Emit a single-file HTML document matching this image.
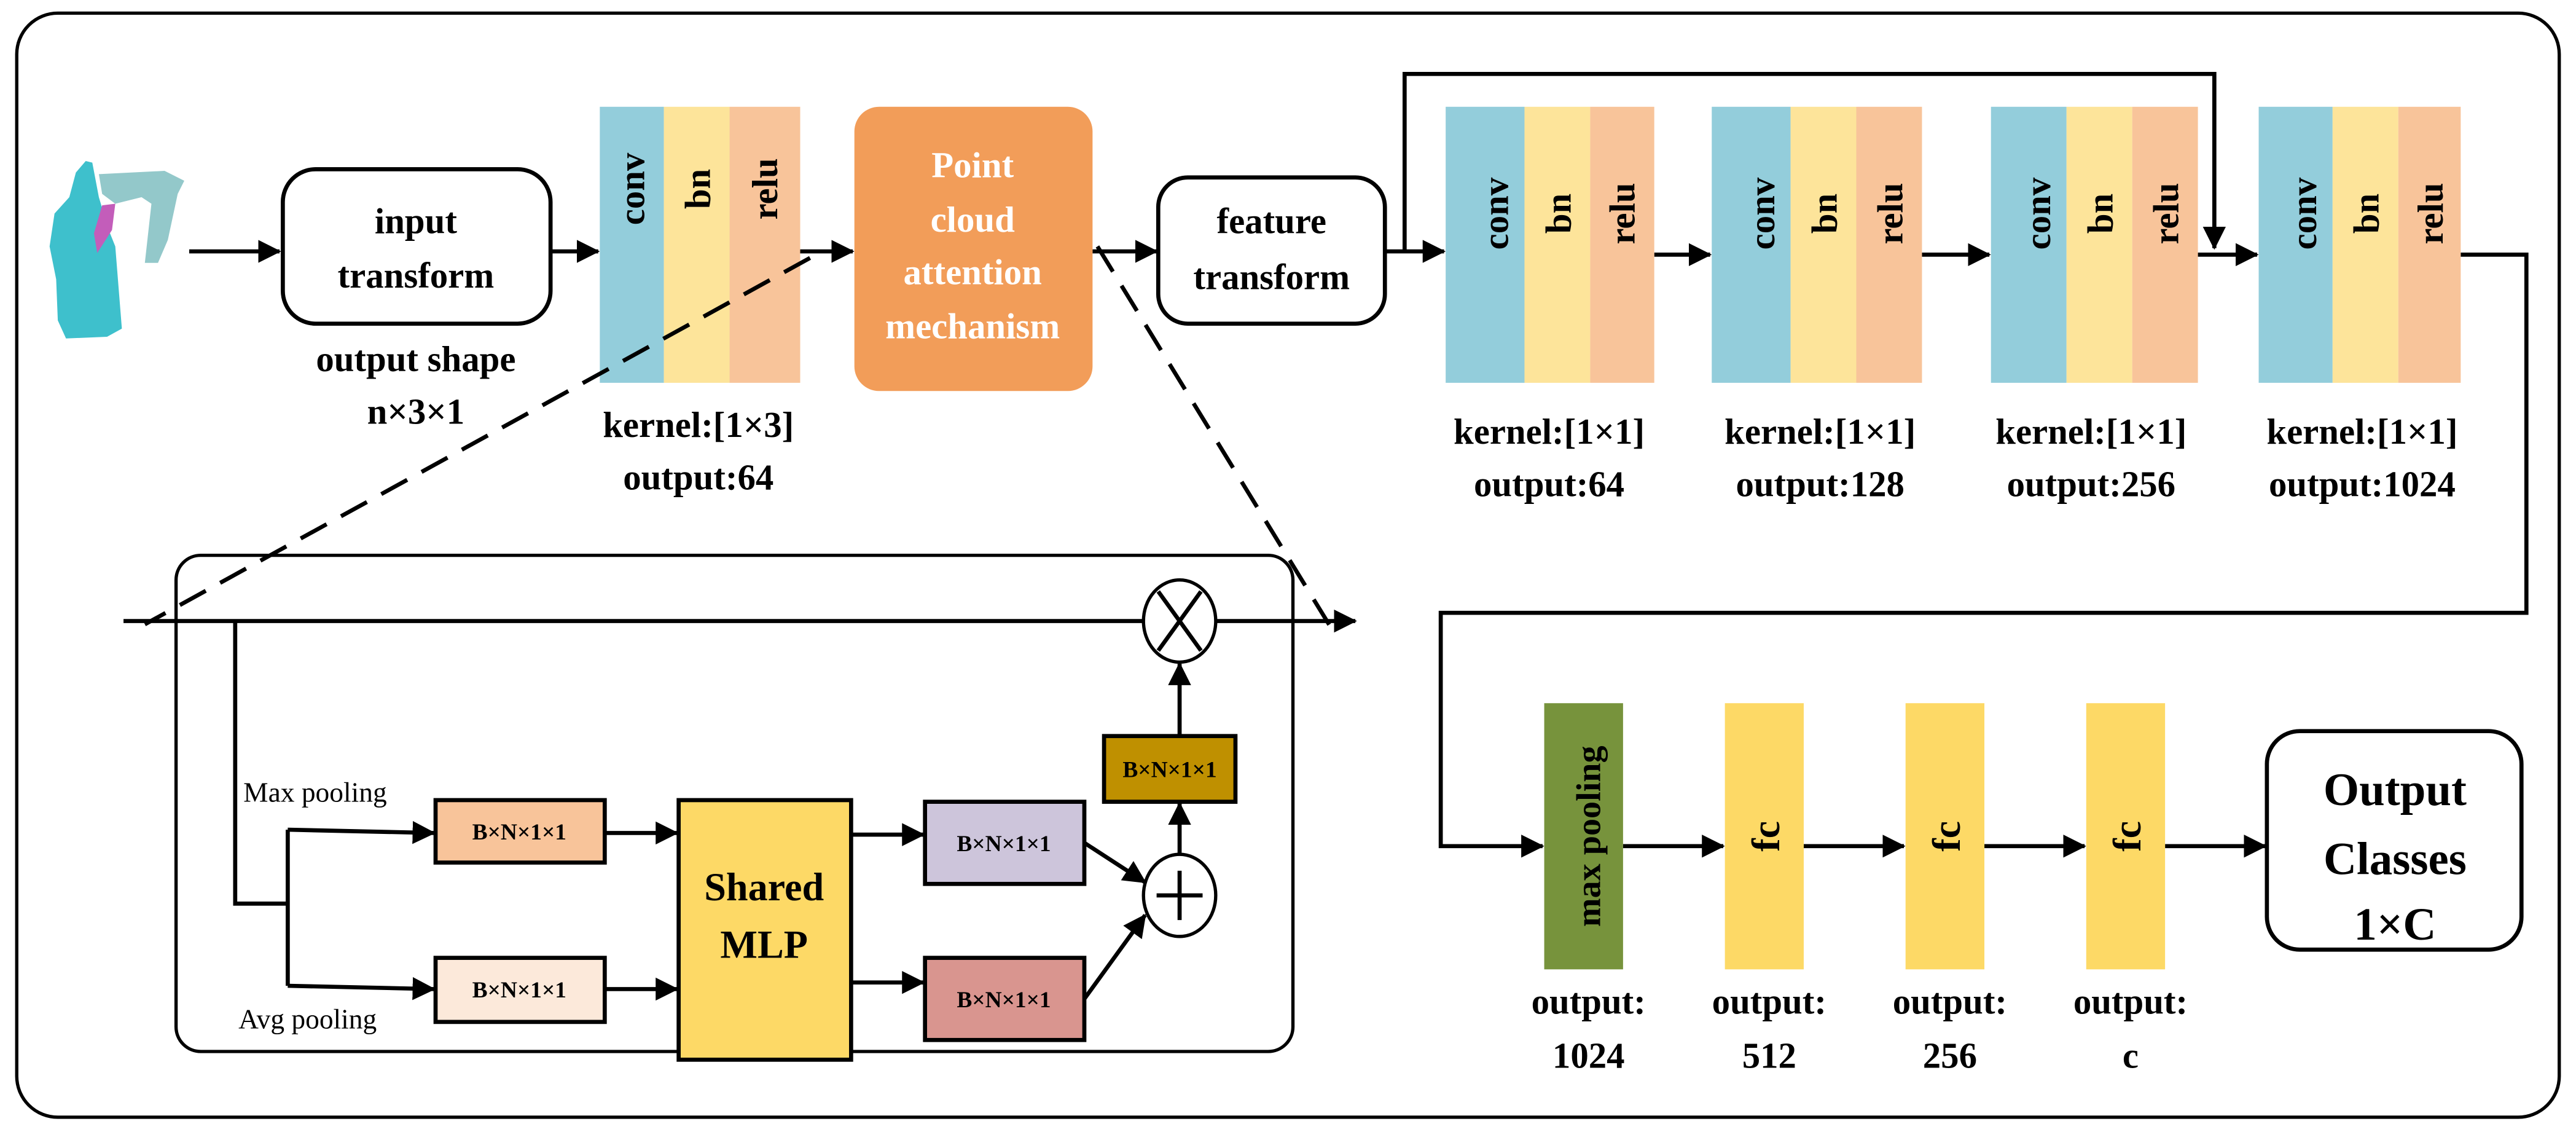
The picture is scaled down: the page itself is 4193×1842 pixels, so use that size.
<!DOCTYPE html>
<html><head><meta charset="utf-8"><style>
html,body{margin:0;padding:0;background:#fff}
svg{display:block}
text{font-family:"Liberation Serif","DejaVu Serif",serif;font-weight:bold;fill:#000}
</style></head><body>
<svg width="4193" height="1842" viewBox="0 0 1568 689" xmlns="http://www.w3.org/2000/svg">
<defs>
<marker id="b" markerWidth="14" markerHeight="14" refX="13" refY="7" orient="auto" markerUnits="userSpaceOnUse"><path d="M0,0 L14,7 L0,14 z" fill="#000"/></marker>
</defs>
<rect x="10" y="8" width="1548" height="672" rx="25" fill="none" stroke="#000" stroke-width="2"/>

<!-- object -->
<g>
<path d="M60,106 L100,104 L112,110 L108,118 L102,146 L96,160 L88,160 L92,124 L86,120 L70,124 L62,118 z" fill="#93C8CA"/>
<path d="M52,98 L56,99 L60,120 L66,140 L70,150 L72,175 L74,200 L65,205 L40,206 L35,195 L34,170 L30,150 L33,130 L42,120 L46,105 z" fill="#3EC0CC"/>
<path d="M62,125 L70,124 L68,140 L59,154 L57,142 z" fill="#C35DBA"/>
</g>

<g stroke="#000" stroke-width="2.5" fill="none">
<line x1="115" y1="153" x2="170" y2="153" marker-end="url(#b)"/>
<line x1="335" y1="153" x2="364" y2="153" marker-end="url(#b)"/>
<line x1="487" y1="153" x2="519" y2="153" marker-end="url(#b)"/>
<line x1="665" y1="153" x2="704" y2="153" marker-end="url(#b)"/>
<line x1="843" y1="153" x2="879" y2="153" marker-end="url(#b)"/>
<polyline points="855,153 855,45 1348,45 1348,151" marker-end="url(#b)"/>
<line x1="1007" y1="155" x2="1041" y2="155" marker-end="url(#b)"/>
<line x1="1170" y1="155" x2="1211" y2="155" marker-end="url(#b)"/>
<line x1="1338" y1="155" x2="1374" y2="155" marker-end="url(#b)"/>
<polyline points="1498,155 1538,155 1538,373 877,373 877,515 939,515" marker-end="url(#b)"/>
<line x1="988" y1="515" x2="1049" y2="515" marker-end="url(#b)"/>
<line x1="1098" y1="515" x2="1159" y2="515" marker-end="url(#b)"/>
<line x1="1208" y1="515" x2="1269" y2="515" marker-end="url(#b)"/>
<line x1="1318" y1="515" x2="1379" y2="515" marker-end="url(#b)"/>
</g>

<rect x="172" y="103" width="163" height="94" rx="20" fill="#fff" stroke="#000" stroke-width="2.5"/>
<text x="253" y="142" font-size="22" text-anchor="middle">input</text>
<text x="253" y="175" font-size="22" text-anchor="middle">transform</text>
<text x="253" y="226" font-size="22" text-anchor="middle">output shape</text>
<text x="253" y="258" font-size="22" text-anchor="middle">n×3×1</text>

<rect x="365" y="65" width="39" height="168" fill="#93CDDB"/>
<rect x="404" y="65" width="40" height="168" fill="#FDE49A"/>
<rect x="444" y="65" width="43" height="168" fill="#F8C49A"/>
<text transform="translate(392,115) rotate(-90)" font-size="22" text-anchor="middle">conv</text>
<text transform="translate(432,115) rotate(-90)" font-size="22" text-anchor="middle">bn</text>
<text transform="translate(473,115) rotate(-90)" font-size="22" text-anchor="middle">relu</text>
<text x="425" y="266" font-size="22" text-anchor="middle">kernel:[1×3]</text>
<text x="425" y="298" font-size="22" text-anchor="middle">output:64</text>

<rect x="520" y="65" width="145" height="173" rx="15" fill="#F29D59"/>
<text x="592" y="108" font-size="22" text-anchor="middle" style="fill:#fff">Point</text>
<text x="592" y="141" font-size="22" text-anchor="middle" style="fill:#fff">cloud</text>
<text x="592" y="173" font-size="22" text-anchor="middle" style="fill:#fff">attention</text>
<text x="592" y="206" font-size="22" text-anchor="middle" style="fill:#fff">mechanism</text>

<rect x="705" y="108" width="138" height="89" rx="18" fill="#fff" stroke="#000" stroke-width="2.5"/>
<text x="774" y="142" font-size="22" text-anchor="middle">feature</text>
<text x="774" y="176" font-size="22" text-anchor="middle">transform</text>

<rect x="880" y="65" width="48" height="168" fill="#93CDDB"/><rect x="928" y="65" width="40" height="168" fill="#FDE49A"/><rect x="968" y="65" width="39" height="168" fill="#F8C49A"/>
<text transform="translate(918,130) rotate(-90)" font-size="22" text-anchor="middle">conv</text>
<text transform="translate(956,130) rotate(-90)" font-size="22" text-anchor="middle">bn</text>
<text transform="translate(995,130) rotate(-90)" font-size="22" text-anchor="middle">relu</text>
<rect x="1042" y="65" width="48" height="168" fill="#93CDDB"/><rect x="1090" y="65" width="40" height="168" fill="#FDE49A"/><rect x="1130" y="65" width="40" height="168" fill="#F8C49A"/>
<text transform="translate(1080,130) rotate(-90)" font-size="22" text-anchor="middle">conv</text>
<text transform="translate(1118,130) rotate(-90)" font-size="22" text-anchor="middle">bn</text>
<text transform="translate(1158,130) rotate(-90)" font-size="22" text-anchor="middle">relu</text>
<rect x="1212" y="65" width="46" height="168" fill="#93CDDB"/><rect x="1258" y="65" width="40" height="168" fill="#FDE49A"/><rect x="1298" y="65" width="40" height="168" fill="#F8C49A"/>
<text transform="translate(1248,130) rotate(-90)" font-size="22" text-anchor="middle">conv</text>
<text transform="translate(1286,130) rotate(-90)" font-size="22" text-anchor="middle">bn</text>
<text transform="translate(1326,130) rotate(-90)" font-size="22" text-anchor="middle">relu</text>
<rect x="1375" y="65" width="45" height="168" fill="#93CDDB"/><rect x="1420" y="65" width="40" height="168" fill="#FDE49A"/><rect x="1460" y="65" width="38" height="168" fill="#F8C49A"/>
<text transform="translate(1410,130) rotate(-90)" font-size="22" text-anchor="middle">conv</text>
<text transform="translate(1448,130) rotate(-90)" font-size="22" text-anchor="middle">bn</text>
<text transform="translate(1487,130) rotate(-90)" font-size="22" text-anchor="middle">relu</text>
<g font-size="22" text-anchor="middle">
<text x="943" y="270">kernel:[1×1]</text><text x="943" y="302">output:64</text>
<text x="1108" y="270">kernel:[1×1]</text><text x="1108" y="302">output:128</text>
<text x="1273" y="270">kernel:[1×1]</text><text x="1273" y="302">output:256</text>
<text x="1438" y="270">kernel:[1×1]</text><text x="1438" y="302">output:1024</text>
</g>

<rect x="940" y="428" width="48" height="162" fill="#77933C"/>
<text transform="translate(974,509) rotate(-90)" font-size="21" text-anchor="middle">max pooling</text>
<rect x="1050" y="428" width="48" height="162" fill="#FDD966"/>
<rect x="1160" y="428" width="48" height="162" fill="#FDD966"/>
<rect x="1270" y="428" width="48" height="162" fill="#FDD966"/>
<text transform="translate(1083,509) rotate(-90)" font-size="24" text-anchor="middle">fc</text>
<text transform="translate(1193,509) rotate(-90)" font-size="24" text-anchor="middle">fc</text>
<text transform="translate(1303,509) rotate(-90)" font-size="24" text-anchor="middle">fc</text>
<g font-size="22" text-anchor="middle">
<text x="967" y="617">output:</text><text x="967" y="650">1024</text>
<text x="1077" y="617">output:</text><text x="1077" y="650">512</text>
<text x="1187" y="617">output:</text><text x="1187" y="650">256</text>
<text x="1297" y="617">output:</text><text x="1297" y="650">c</text>
</g>
<rect x="1380" y="445" width="155" height="133" rx="20" fill="#fff" stroke="#000" stroke-width="2.5"/>
<g font-size="28" text-anchor="middle">
<text x="1458" y="490">Output</text><text x="1458" y="532">Classes</text><text x="1458" y="572">1×C</text>
</g>

<rect x="107" y="338" width="680" height="302" rx="15" fill="none" stroke="#000" stroke-width="2"/>
<g stroke="#000" stroke-width="2.5" fill="none" stroke-dasharray="18,10">
<line x1="493" y1="157" x2="88" y2="380"/>
<line x1="668" y1="150" x2="812" y2="385"/>
</g>
<g stroke="#000" stroke-width="2.5" fill="none">
<line x1="75" y1="378" x2="696" y2="378"/>
<line x1="740" y1="378" x2="825" y2="378" marker-end="url(#b)"/>
<polyline points="143,378 143,550 175,550"/>
<polyline points="175,505 175,600"/>
<line x1="175" y1="505" x2="264" y2="507" marker-end="url(#b)"/>
<line x1="175" y1="600" x2="264" y2="602" marker-end="url(#b)"/>
<line x1="368" y1="507" x2="412" y2="507" marker-end="url(#b)"/>
<line x1="368" y1="602" x2="412" y2="602" marker-end="url(#b)"/>
<line x1="518" y1="508" x2="562" y2="508" marker-end="url(#b)"/>
<line x1="518" y1="598" x2="562" y2="598" marker-end="url(#b)"/>
<line x1="660" y1="513" x2="697" y2="537" marker-end="url(#b)"/>
<line x1="660" y1="608" x2="697" y2="557" marker-end="url(#b)"/>
<line x1="718" y1="520" x2="718" y2="489" marker-end="url(#b)"/>
<line x1="718" y1="448" x2="718" y2="404" marker-end="url(#b)"/>
</g>
<ellipse cx="718" cy="378" rx="22" ry="25" fill="#fff" stroke="#000" stroke-width="2"/>
<line x1="705" y1="360" x2="731" y2="396" stroke="#000" stroke-width="2.5"/>
<line x1="731" y1="360" x2="705" y2="396" stroke="#000" stroke-width="2.5"/>
<ellipse cx="718" cy="545" rx="22" ry="25" fill="#fff" stroke="#000" stroke-width="2"/>
<line x1="704" y1="545" x2="732" y2="545" stroke="#000" stroke-width="2.5"/>
<line x1="718" y1="530" x2="718" y2="560" stroke="#000" stroke-width="2.5"/>

<g stroke="#000" stroke-width="2.5">
<rect x="265" y="487" width="103" height="38" fill="#F8C49A"/>
<rect x="265" y="583" width="103" height="39" fill="#FCE9DA"/>
<rect x="413" y="487" width="105" height="158" fill="#FDD966"/>
<rect x="563" y="488" width="97" height="50" fill="#CDC5DB"/>
<rect x="563" y="583" width="97" height="50" fill="#D9958F"/>
<rect x="672" y="448" width="80" height="40" fill="#BF9000"/>
</g>
<g font-size="14" text-anchor="middle">
<text x="316" y="511">B×N×1×1</text>
<text x="316" y="607">B×N×1×1</text>
<text x="611" y="518">B×N×1×1</text>
<text x="611" y="613">B×N×1×1</text>
<text x="712" y="473">B×N×1×1</text>
</g>
<text x="465" y="548" font-size="24" text-anchor="middle">Shared</text>
<text x="465" y="583" font-size="24" text-anchor="middle">MLP</text>
<text x="148" y="488" font-size="17" style="font-weight:normal">Max pooling</text>
<text x="145" y="626" font-size="17" style="font-weight:normal">Avg pooling</text>
</svg>
</body></html>
